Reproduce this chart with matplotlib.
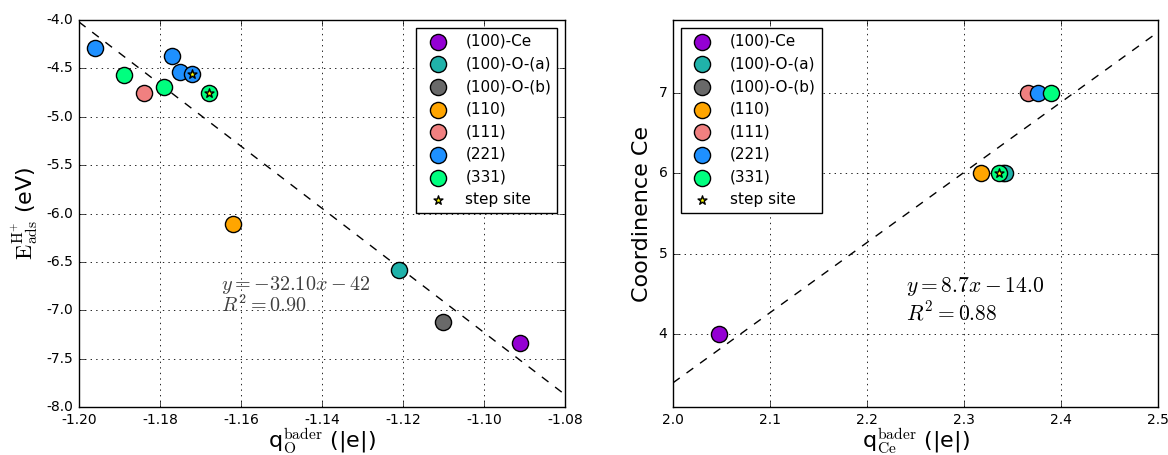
import matplotlib
matplotlib.use("Agg")
import matplotlib.pyplot as plt
import numpy as np

plt.style.use("classic")
plt.rcParams["figure.facecolor"] = "white"
plt.rcParams["savefig.facecolor"] = "white"
plt.rcParams["font.family"] = ["DejaVu Sans"]
plt.rcParams["mathtext.fontset"] = "cm"
plt.rcParams["xtick.labelsize"] = 10
plt.rcParams["ytick.labelsize"] = 10

# ---------------- data ----------------
categories = ["(100)-Ce", "(100)-O-(a)", "(100)-O-(b)", "(110)", "(111)", "(221)", "(331)"]
colors = ["#9400D3", "#20B2AA", "#696969", "#FFA500", "#F08080", "#1E90FF", "#00FF7F"]

# left panel: q_O^bader vs E_ads
qO = {
    "(100)-Ce": [-1.091],
    "(100)-O-(a)": [-1.121],
    "(100)-O-(b)": [-1.110],
    "(110)": [-1.162],
    "(111)": [-1.184],
    "(221)": [-1.196, -1.177, -1.175, -1.172],
    "(331)": [-1.189, -1.179, -1.168],
}
Eads = {
    "(100)-Ce": [-7.34],
    "(100)-O-(a)": [-6.58],
    "(100)-O-(b)": [-7.12],
    "(110)": [-6.11],
    "(111)": [-4.75],
    "(221)": [-4.29, -4.37, -4.54, -4.56],
    "(331)": [-4.57, -4.69, -4.75],
}
step_qO = [-1.172, -1.168]
step_E = [-4.56, -4.75]
fit_left = (-32.10, -42.54)
fit_left_x = [-1.20, -1.08]
left_text = ["$y=-32.10x-42$", "$R^2=0.90$"]

# right panel: q_Ce^bader vs coordination
qCe = {
    "(100)-Ce": [2.047],
    "(100)-O-(a)": [2.342],
    "(100)-O-(b)": [2.340],
    "(110)": [2.318],
    "(111)": [2.366],
    "(221)": [2.376],
    "(331)": [2.336, 2.390],
}
coord = {
    "(100)-Ce": [4],
    "(100)-O-(a)": [6],
    "(100)-O-(b)": [6],
    "(110)": [6],
    "(111)": [7],
    "(221)": [7],
    "(331)": [6, 7],
}
step_qCe = [2.336]
step_coord = [6]
fit_right = (8.7, -14.0)
fit_right_x = [2.0, 2.5]
right_text = ["$y=8.7x-14.0$", "$R^2=0.88$"]

left_xticks = [-1.20, -1.18, -1.16, -1.14, -1.12, -1.10, -1.08]
left_yticks = [-4.0, -4.5, -5.0, -5.5, -6.0, -6.5, -7.0, -7.5, -8.0]
right_xticks = [2.0, 2.1, 2.2, 2.3, 2.4, 2.5]
right_yticks = [4, 5, 6, 7]

# ---------------- figure ----------------
fig = plt.figure(figsize=(11.68, 4.55), dpi=100)
axL = fig.add_axes([0.0676, 0.1055, 0.4161, 0.8505])
axR = fig.add_axes([0.5762, 0.1055, 0.4152, 0.8505])

S = 135
def draw(ax, xs, ys, sx, sy, fit, fitx, behind=()):
    fx = np.array(fitx)
    ax.plot(fx, fit[0] * fx + fit[1], "k--", lw=1, zorder=2)
    for cat, col in zip(categories, colors):
        z = 2.9 if cat in behind else 3
        ax.scatter(xs[cat], ys[cat], s=S, c=col, edgecolors="black",
                   linewidths=1, label=cat, zorder=z)
    ax.scatter(sx, sy, s=45, marker="*", c="yellow", edgecolors="black",
               linewidths=1, label="step site", zorder=4)
    ax.grid(True, color="black", linestyle=":", linewidth=0.6)
    ax.set_axisbelow(True)

draw(axL, qO, Eads, step_qO, step_E, fit_left, fit_left_x)
draw(axR, qCe, coord, step_qCe, step_coord, fit_right, fit_right_x,
     behind=("(100)-O-(b)",))

axL.set_xlim(-1.20, -1.08)
axL.set_ylim(-8.0, -4.0)
axL.set_xticks(left_xticks)
axL.set_xticklabels(["%.2f" % v for v in left_xticks])
axL.set_yticks(left_yticks)
axL.set_yticklabels(["%.1f" % v for v in left_yticks])
axL.set_xlabel(r"q$_{\mathrm{O}}^{\mathrm{bader}}$ (|e|)", fontsize=16, labelpad=0)
axL.set_ylabel(r"$\mathrm{E}_{\mathrm{ads}}^{\mathrm{H}^{+}}$ (eV)", fontsize=16)
axL.text(-1.165, -6.74, left_text[0], fontsize=14.5, color="0.25", va="center", ha="left")
axL.text(-1.165, -6.95, left_text[1], fontsize=14.5, color="0.25", va="center", ha="left")
axL.legend(loc="upper right", scatterpoints=1, fontsize=11, fancybox=False,
           frameon=True, borderaxespad=0.5)

axR.set_xlim(2.0, 2.5)
axR.set_ylim(3.1, 7.9)
axR.set_xticks(right_xticks)
axR.set_xticklabels(["%.1f" % v for v in right_xticks])
axR.set_yticks(right_yticks)
axR.set_yticklabels([str(v) for v in right_yticks])
axR.set_xlabel(r"q$_{\mathrm{Ce}}^{\mathrm{bader}}$ (|e|)", fontsize=16, labelpad=0)
axR.set_ylabel("Coordinence Ce", fontsize=16)
axR.text(2.2407, 4.59, right_text[0], fontsize=15.5, color="black", va="center", ha="left")
axR.text(2.2407, 4.28, right_text[1], fontsize=15.5, color="black", va="center", ha="left")
axR.legend(loc="upper left", scatterpoints=1, fontsize=11, fancybox=False,
           frameon=True, borderaxespad=0.5)

fig.savefig("out.png", dpi=100)
